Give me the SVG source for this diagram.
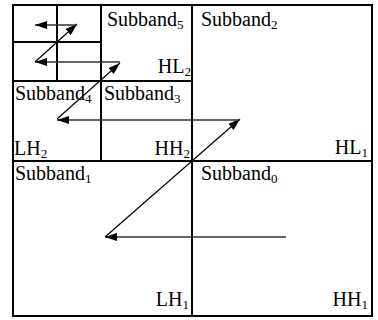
<svg xmlns="http://www.w3.org/2000/svg" width="378" height="320" viewBox="0 0 378 320">
<style>
.b{fill:none;stroke:#000;stroke-width:2}
.t{font-family:"Liberation Serif","Times New Roman",serif;font-size:20px;fill:#000}
.s{font-size:13px}
.h{stroke:#333;stroke-width:1.6;fill:none}
.d{stroke:#000;stroke-width:1.2;fill:none}
</style>
<defs>
<marker id="ah" viewBox="0 0 12 8" refX="12" refY="4" markerWidth="12" markerHeight="8" markerUnits="userSpaceOnUse" orient="auto">
<path d="M0,0 L12,4 L0,8 Z" fill="#000"/>
</marker>
</defs>
<rect fill="#fff" width="378" height="320"/>
<g id="grid">
<rect class="b" x="13" y="5" width="359" height="311"/>
<line class="b" x1="192" y1="5" x2="192" y2="316"/>
<line class="b" x1="13" y1="161" x2="372" y2="161"/>
<line class="b" x1="101" y1="5" x2="101" y2="161"/>
<line class="b" x1="13" y1="81" x2="192" y2="81"/>
<line class="b" x1="57" y1="5" x2="57" y2="81"/>
<line class="b" x1="13" y1="42" x2="101" y2="42"/>
</g>
<g id="sb5"><text class="t" x="107" y="26">Subband<tspan class="s" dy="3">5</tspan></text><text class="t" x="191" y="73" text-anchor="end">HL<tspan class="s" dy="3">2</tspan></text></g>
<g id="sb4"><text class="t" x="15" y="100">Subband<tspan class="s" dy="3">4</tspan></text><text class="t" x="14" y="155">LH<tspan class="s" dy="3">2</tspan></text></g>
<g id="sb3"><text class="t" x="104" y="100">Subband<tspan class="s" dy="3">3</tspan></text><text class="t" x="190" y="155" text-anchor="end">HH<tspan class="s" dy="3">2</tspan></text></g>
<g id="sb2"><text class="t" x="201" y="26">Subband<tspan class="s" dy="3">2</tspan></text><text class="t" x="368" y="154" text-anchor="end">HL<tspan class="s" dy="3">1</tspan></text></g>
<g id="sb1"><text class="t" x="15" y="180">Subband<tspan class="s" dy="3">1</tspan></text><text class="t" x="189" y="306" text-anchor="end">LH<tspan class="s" dy="3">1</tspan></text></g>
<g id="sb0"><text class="t" x="201" y="180">Subband<tspan class="s" dy="3">0</tspan></text><text class="t" x="368" y="306" text-anchor="end">HH<tspan class="s" dy="3">1</tspan></text></g>
<g id="connectors">
<line class="h" x1="286" y1="237" x2="105" y2="237" marker-end="url(#ah)"/>
<line class="d" x1="105" y1="237" x2="240" y2="119" marker-end="url(#ah)"/>
<line class="h" x1="240" y1="120" x2="57" y2="120" marker-end="url(#ah)"/>
<line class="d" x1="57" y1="119" x2="120" y2="63" marker-end="url(#ah)"/>
<line class="h" x1="120" y1="62" x2="35" y2="62" marker-end="url(#ah)"/>
<line class="d" x1="35" y1="62" x2="77" y2="24" marker-end="url(#ah)"/>
<line class="h" x1="77" y1="25" x2="35" y2="25" marker-end="url(#ah)"/>
</g>
</svg>
